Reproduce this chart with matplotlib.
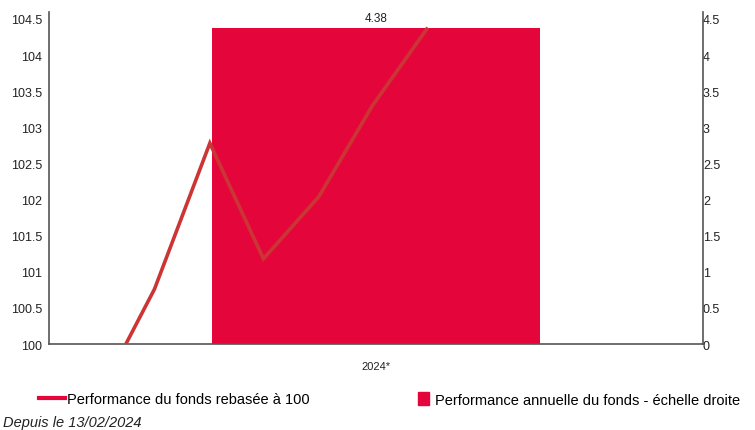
import matplotlib.pyplot as plt
import numpy as np
from matplotlib.lines import Line2D
from matplotlib.patches import Patch

plt.rcParams['font.family'] = ['Liberation Sans', 'DejaVu Sans']

# fund rebased to 100, month-end points since launch
line_dates = ["2024-02-13", "2024-02-29", "2024-03-31", "2024-04-30",
              "2024-05-31", "2024-06-30", "2024-07-31"]
line_values = [100.0, 100.76, 102.78, 101.18, 102.04, 103.30, 104.38]

# annual performance (right axis)
bar_years = ["2024*"]
bar_values = [4.38]

crimson = "#e4063a"
line_red = "#cc3535"

day = (np.array(line_dates, dtype="datetime64[D]")
       - np.datetime64("2024-01-01")).astype(float)
year_len = 366.0

fig = plt.figure(figsize=(7.55, 4.31), dpi=100)
ax = fig.add_axes([0.065, 0.1995, 0.866, 0.7705])
ax2 = ax.twinx()

ax.set_zorder(2)
ax.patch.set_visible(False)

ax2.bar(year_len / 2, bar_values[0], width=year_len * 0.502, color=crimson, zorder=1)
ax2.text(year_len / 2, bar_values[0] + 0.05, f"{bar_values[0]:.2f}",
         ha="center", va="bottom", fontsize=8.5, color="#222222")
ax.plot(day, line_values, color=line_red, lw=2.6, solid_joinstyle="miter",
        solid_capstyle="butt", zorder=3)

ax.set_xlim(0, year_len)
ax.set_ylim(100, 104.597)
ax2.set_ylim(0, 4.597)
ax.set_yticks(np.arange(100, 104.51, 0.5))
ax.set_yticklabels(["100", "100.5", "101", "101.5", "102", "102.5", "103",
                    "103.5", "104", "104.5"])
ax2.set_yticks(np.arange(0, 4.51, 0.5))
ax2.set_yticklabels(["0", "0.5", "1", "1.5", "2", "2.5", "3", "3.5", "4", "4.5"])
ax.set_xticks([year_len / 2])
ax.set_xticklabels(bar_years)

for a in (ax, ax2):
    a.spines["top"].set_visible(False)
    for s in ("left", "right", "bottom"):
        a.spines[s].set_color("#555555")
        a.spines[s].set_linewidth(1.2)
ax.spines["right"].set_visible(False)
ax2.spines["left"].set_visible(False)
ax2.spines["bottom"].set_visible(False)

ax.tick_params(axis="y", length=0, pad=5, labelsize=9, colors="#222222")
ax.tick_params(axis="x", length=0, pad=12, labelsize=8, colors="#222222")
ax2.tick_params(axis="y", length=0, pad=0, labelsize=9, colors="#222222")

handles = [Line2D([], [], color=crimson, lw=3),
           Patch(color=crimson)]
fig.legend([handles[0]], ["Performance du fonds rebasée à 100"],
           loc="center left", bbox_to_anchor=(0.034, 0.071), frameon=False,
           fontsize=10.5, handlelength=1.8, handletextpad=0.1)
fig.legend([handles[1]], ["Performance annuelle du fonds - échelle droite"],
           loc="center left", bbox_to_anchor=(0.536, 0.071), frameon=False,
           fontsize=10.5, handlelength=0.8, handleheight=1.0, handletextpad=0.4)
fig.text(0.004, 0.0186, "Depuis le 13/02/2024", fontsize=10.5, style="italic",
         color="#222222", va="center")

fig.savefig("out.png", dpi=100)
